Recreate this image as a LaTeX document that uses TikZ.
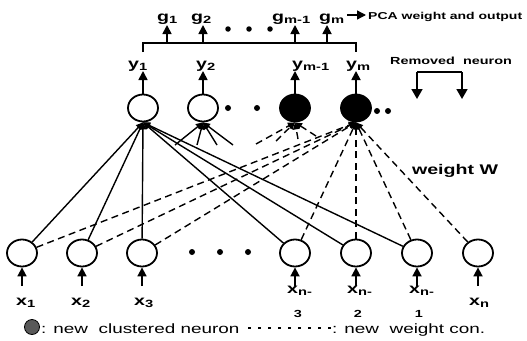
\documentclass[tikz,border=0pt]{standalone}
\usepackage{fontspec}
\setmainfont{Liberation Sans}[FakeStretch=1.4]
\newfontfamily\wideb{Liberation Sans Bold}[FakeStretch=1.4]
\usetikzlibrary{arrows.meta,shapes.geometric}

% index label: letter with a lowered index
\newcommand{\lblsub}[2]{#1\raisebox{-0.35ex}{\fontsize{10.5}{10.5}\selectfont #2}}

\tikzset{
  neuron/.style={ellipse, draw, line width=1.8pt, minimum width=30pt,
                 minimum height=27pt, inner sep=0pt},
  clustered/.style={neuron, fill=black},
  wire/.style={line width=1.4pt, -{Triangle[length=7pt,width=6.5pt]}},
  newwire/.style={wire, dash pattern=on 7pt off 4.5pt},
  feed/.style={line width=1.7pt, -{Triangle[length=9pt,width=9pt]}},
  bigfeed/.style={line width=1.7pt, -{Triangle[length=10pt,width=11pt]}},
  lab/.style={font=\wideb\fontsize{14}{14}\selectfont, inner sep=0pt, anchor=base west},
  note/.style={font=\wideb\fontsize{10}{10}\selectfont, inner sep=0pt},
  digit/.style={font=\wideb\fontsize{10.3}{10.3}\selectfont, inner sep=0pt, anchor=base},
  legend/.style={font=\fontsize{13.5}{13.5}\selectfont, inner sep=0pt, anchor=base west},
  dot/.style={circle, fill=black, inner sep=0pt, minimum size=6pt},
}

\begin{document}
\begin{tikzpicture}[x=1pt, y=-1pt]
\useasboundingbox (0,0) rectangle (527,340);

% ---- output layer ----
\node[neuron]    (y1)  at (143,108) {};
\node[neuron]    (y2)  at (203,108) {};
\node[clustered] (ym1) at (295,108) {};
\node[clustered] (ym)  at (356,108) {};
\node[dot] (dt1) at (228,108) {};
\node[dot] (dt2) at (257,108) {};
\node[dot] (dt3) at (377,111) {};
\node[dot] (dt4) at (388,111) {};

% ---- input layer ----
\node[neuron] (x1)  at (22,253)  {};
\node[neuron] (x2)  at (82,253)  {};
\node[neuron] (x3)  at (142,253) {};
\node[neuron] (xn3) at (295,253) {};
\node[neuron] (xn2) at (356,253) {};
\node[neuron] (xn1) at (417,253) {};
\node[neuron] (xn)  at (478,253) {};
\node[dot] (db1) at (192,252) {};
\node[dot] (db2) at (220,252) {};
\node[dot] (db3) at (248,252) {};

% ---- input arrows and labels ----
\foreach \n/\x in {x1/22, x2/82, x3/142, xn3/295, xn2/356, xn1/417, xn/478} {
  \coordinate (in-\n) at (\x,286);
  \draw[feed] (in-\n) -- (\n.south);
}
\node[lab] (lx1)  at (16,305)  {\lblsub{x}{1}};
\node[lab] (lx2)  at (71,305)  {\lblsub{x}{2}};
\node[lab] (lx3)  at (134,305) {\lblsub{x}{3}};
\node[lab] (lxn3) at (287,293) {\lblsub{x}{n-}};
\node[lab] (lxn2) at (347,293) {\lblsub{x}{n-}};
\node[lab] (lxn1) at (409,293) {\lblsub{x}{n-}};
\node[lab] (lxn)  at (469,305) {\lblsub{x}{n}};
\node[digit] (k3) at (298,317) {3};
\node[digit] (k2) at (358,317) {2};
\node[digit] (k1) at (419,317) {1};

% ---- weights into y1 ----
\foreach \n in {x1, x2, x3, xn3, xn2, xn1}
  \draw[wire] (\n) -- (y1.south);

% ---- partial weights into y2 ----
\coordinate (s2a) at (175,145);
\coordinate (s2b) at (197,145);
\coordinate (s2c) at (217,145);
\coordinate (s2d) at (233,145);
\foreach \c in {s2a, s2b, s2c, s2d}
  \draw[wire] (\c) -- (y2.south);

% ---- new weight connections of the clustered neurons ----
\coordinate (s1a) at (256,144);
\coordinate (s1b) at (276,141);
\coordinate (s1c) at (298,139);
\coordinate (s1d) at (316,136);
\foreach \c in {s1a, s1b, s1c, s1d}
  \draw[newwire] (\c) -- (ym1.south);
\foreach \n in {x1, x2, x3, xn3, xn2, xn1, xn}
  \draw[newwire] (\n) -- (ym.south);

% ---- outputs ----
\foreach \n/\x in {y1/143, y2/203, ym1/295, ym/356} {
  \coordinate (out-\n) at (\x,71);
  \draw[feed] (\n.north) -- (out-\n);
}
\node[lab] (ly1)  at (128,68) {\lblsub{y}{1}};
\node[lab] (ly2)  at (196,68) {\lblsub{y}{2}};
\node[lab] (lym1) at (292,68) {\lblsub{y}{m-1}};
\node[lab] (lym)  at (346,68) {\lblsub{y}{m}};

% ---- bracket collecting the outputs ----
\coordinate (brL) at (143,52);
\coordinate (brR) at (356,52);
\coordinate (topL) at (143,43);
\coordinate (topR) at (356,43);
\draw[line width=1.8pt] (brL) -- (topL) -- (topR) -- (brR);
\foreach \i/\x in {1/167, 2/203, 3/295, 4/327} {
  \coordinate (gb\i) at (\x,43);
  \coordinate (gt\i) at (\x,25);
  \draw[feed] (gb\i) -- (gt\i);
}
\node[dot, minimum size=5.5pt] (dg1) at (228,29) {};
\node[dot, minimum size=5.5pt] (dg2) at (249,29) {};
\node[dot, minimum size=5.5pt] (dg3) at (270,29) {};
\node[lab] (lg1)  at (157,21) {\lblsub{g}{1}};
\node[lab] (lg2)  at (191,21) {\lblsub{g}{2}};
\node[lab] (lgm1) at (272,21) {\lblsub{g}{m-1}};
\node[lab] (lgm)  at (319,21) {\lblsub{g}{m}};

% ---- PCA output note ----
\coordinate (pcaA) at (347,15);
\coordinate (pcaB) at (366,15);
\draw[feed, line width=1.3pt] (pcaA) -- (pcaB);
\node[note, anchor=base west] (pca) at (368,19) {PCA weight and output};

% ---- removed neuron note ----
\node[note, font=\wideb\fontsize{10.3}{10.3}\selectfont] (rm) at (451,61) {Removed\ \ neuron};
\coordinate (rmTL) at (417,72);
\coordinate (rmTR) at (462,72);
\coordinate (rmL) at (417,99);
\coordinate (rmR) at (462,99);
\draw[line width=1.7pt] (rmTL) -- (rmTR);
\draw[bigfeed] (rmTL) -- (rmL);
\draw[bigfeed] (rmTR) -- (rmR);

% ---- weight label ----
\node[font=\wideb\fontsize{14}{14}\selectfont, inner sep=0pt] (wW) at (455,171) {weight W};

% ---- legend ----
\node[circle, draw, line width=0.8pt, fill=black!65, minimum size=15pt, inner sep=0pt] (lgc) at (32,327) {};
\node[legend] (lgt1) at (41,333) {: new\ \ clustered neuron};
\coordinate (ldA) at (248,328);
\coordinate (ldB) at (331,328);
\draw[line width=1.1pt, dash pattern=on 3pt off 7pt] (ldA) -- (ldB);
\node[legend] (lgt2) at (332,333) {: new\ \ weight con.};
\end{tikzpicture}
\end{document}
